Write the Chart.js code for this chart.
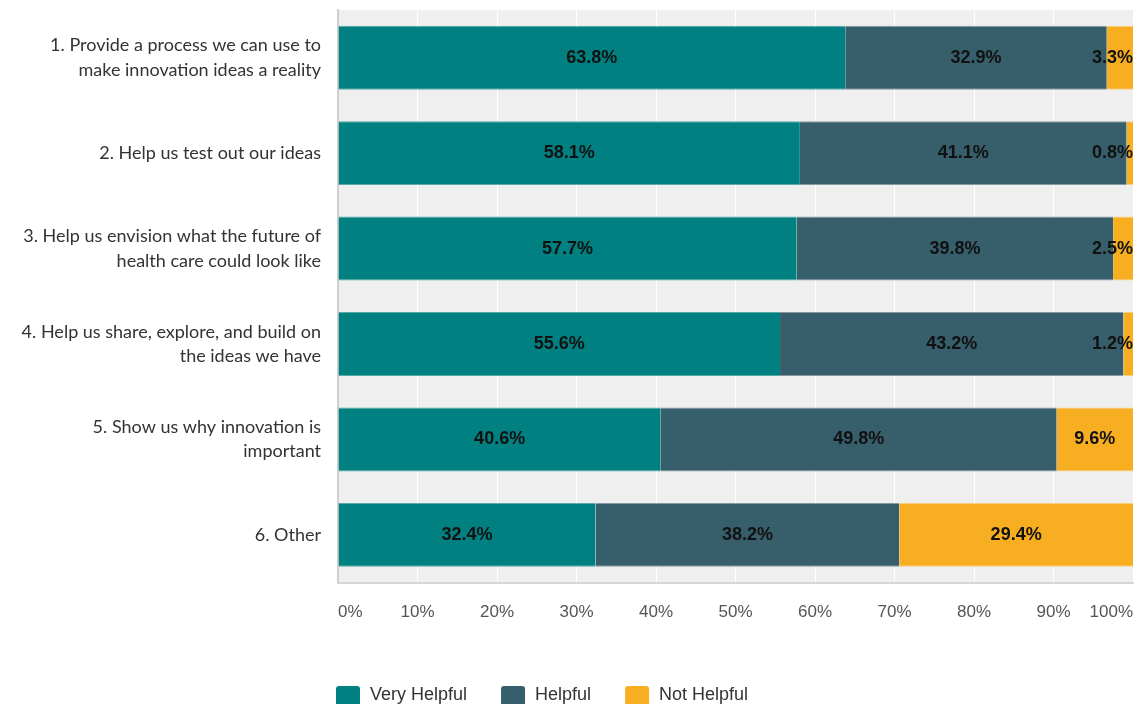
<!DOCTYPE html>
<html>
<head>
<meta charset="utf-8">
<script src="https://cdn.jsdelivr.net/npm/chart.js@4.4.1/dist/chart.umd.min.js"></script>
<style>
  html, body { margin: 0; padding: 0; background: #fff; }
  #wrap { width: 1142px; height: 704px; }
</style>
</head>
<body>
<div id="wrap"><canvas id="bars" width="1142" height="704"></canvas></div>
<script>
const questions = [
    ['1. Provide a process we can use to', 'make innovation ideas a reality'],
    '2. Help us test out our ideas',
    ['3. Help us envision what the future of', 'health care could look like'],
    ['4. Help us share, explore, and build on', 'the ideas we have'],
    ['5. Show us why innovation is', 'important'],
    '6. Other'
];
const veryHelpful = [63.8, 58.1, 57.7, 55.6, 40.6, 32.4];
const helpful     = [32.9, 41.1, 39.8, 43.2, 49.8, 38.2];
const notHelpful  = [3.3, 0.8, 2.5, 1.2, 9.6, 29.4];
const seriesNames = ['Very Helpful', 'Helpful', 'Not Helpful'];
const percentTicks = [0, 10, 20, 30, 40, 50, 60, 70, 80, 90, 100];

const colors = ['#008080', '#375e6b', '#f7ae20'];
const edges = ['#5aa9a9', '#8799a0', '#f9cf7a'];
const arial = '"Liberation Sans", Arial, sans-serif';

// grey plot background behind the grid
const plotBg = {
    id: 'plotBg',
    beforeDraw(chart) {
        const { ctx, chartArea: a } = chart;
        ctx.save();
        ctx.fillStyle = '#efefef';
        ctx.fillRect(a.left, a.top, a.right - a.left, a.bottom - a.top);
        ctx.restore();
    }
};

// value labels centred in each segment
const segLabels = {
    id: 'segLabels',
    afterDatasetsDraw(chart) {
        const ctx = chart.ctx;
        ctx.save();
        ctx.font = 'bold 18px ' + arial;
        ctx.fillStyle = '#111';
        ctx.textAlign = 'center';
        ctx.textBaseline = 'middle';
        chart.data.datasets.forEach((ds, i) => {
            chart.getDatasetMeta(i).data.forEach((bar, j) => {
                const p = bar.getProps(['x', 'y', 'base'], true);
                let cx = (p.x + p.base) / 2;
                const txt = ds.data[j].toFixed(1) + '%';
                const w = ctx.measureText(txt).width;
                if (cx + w / 2 > chart.chartArea.right) cx = chart.chartArea.right - w / 2;
                ctx.fillText(txt, cx, p.y);
            });
        });
        ctx.restore();
    }
};

// legend row under the axis
const bottomLegend = {
    id: 'bottomLegend',
    afterDraw(chart) {
        const ctx = chart.ctx;
        const y = 695;
        let x = 336;
        ctx.save();
        ctx.font = '18px ' + arial;
        ctx.textBaseline = 'middle';
        ctx.textAlign = 'left';
        chart.data.datasets.forEach(ds => {
            ctx.fillStyle = ds.backgroundColor;
            ctx.beginPath();
            ctx.roundRect(x, y - 9, 24, 20, 3);
            ctx.fill();
            ctx.fillStyle = '#333';
            ctx.fillText(ds.label, x + 34, y);
            x += 34 + ctx.measureText(ds.label).width + 34;
        });
        ctx.restore();
    }
};

const series = [veryHelpful, helpful, notHelpful];

const chart = new Chart(document.getElementById('bars').getContext('2d'), {
    type: 'bar',
    data: {
        labels: questions,
        datasets: series.map((vals, i) => ({
            label: seriesNames[i],
            data: vals,
            backgroundColor: colors[i],
            borderColor: edges[i],
            borderWidth: { top: 1, bottom: 1, left: 0, right: 0 },
            borderSkipped: false,
            barPercentage: 0.67,
            categoryPercentage: 1
        }))
    },
    options: {
        indexAxis: 'y',
        responsive: false,
        animation: false,
        layout: { padding: { top: 10, right: 9, bottom: 61, left: 0 } },
        plugins: {
            legend: { display: false },
            tooltip: { enabled: false }
        },
        scales: {
            x: {
                stacked: true,
                min: 0,
                max: 100,
                afterBuildTicks(scale) {
                    scale.ticks = percentTicks.map(v => ({ value: v }));
                },
                afterFit(scale) {
                    scale.paddingLeft = 0;
                    scale.paddingRight = 0;
                },
                grid: { color: '#ffffff', lineWidth: 1, drawTicks: false },
                border: { display: true, color: '#d6d6d6', width: 2 },
                ticks: {
                    align: 'inner',
                    padding: 20,
                    color: '#555',
                    font: { family: arial, size: 17 },
                    callback: v => v + '%'
                }
            },
            y: {
                stacked: true,
                afterFit(scale) {
                    scale.width = 338;
                    scale.paddingTop = 0;
                    scale.paddingBottom = 0;
                },
                grid: { display: false, drawTicks: false },
                border: { display: true, color: '#cfcfcf', width: 2 },
                ticks: {
                    padding: 17,
                    color: '#333',
                    font: { family: 'Lato, "Noto Sans", sans-serif', size: 18, lineHeight: 1.35 }
                }
            }
        }
    },
    plugins: [plotBg, segLabels, bottomLegend]
});
</script>
</body>
</html>
